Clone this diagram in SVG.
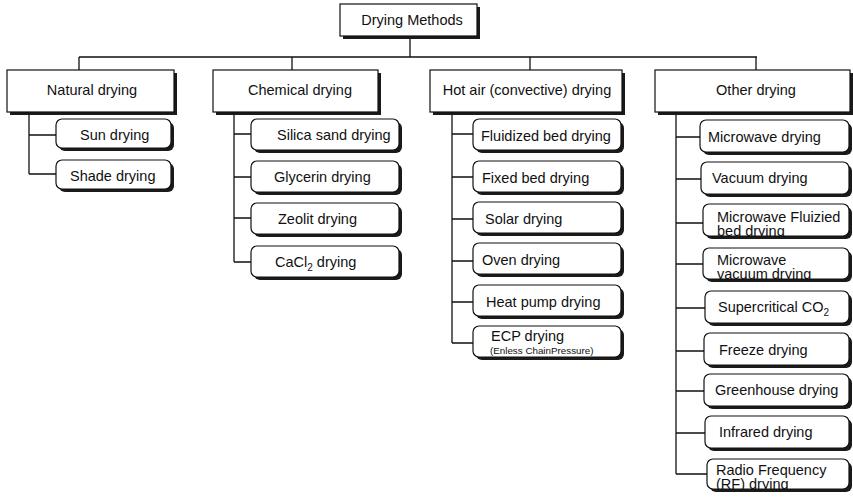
<svg xmlns="http://www.w3.org/2000/svg" width="853" height="497" viewBox="0 0 853 497">
<style>
.sh{fill:#1a1a1a}
.bx{fill:#fff;stroke:#111;stroke-width:1.2}
.t{font-family:"Liberation Sans",Arial,Helvetica,sans-serif;font-size:14.5px;fill:#111}
.c{text-anchor:middle}
.s{font-size:9.8px}
.ln{stroke:#111;stroke-width:1.3;fill:none}
</style>
<defs>
<clipPath id="cpMF"><rect x="703" y="204" width="146" height="32" rx="6"/></clipPath>
<clipPath id="cpMV"><rect x="703" y="248" width="146" height="31" rx="6"/></clipPath>
<clipPath id="cpRF"><rect x="707" y="459" width="142" height="30" rx="6"/></clipPath>
</defs>
<rect width="853" height="497" fill="#fff"/>
<g id="connectors" class="ln">
<path d="M410 36V57M79 57H757M79 57V70M292 57V70M530 57V70M756 57V70"/>
<path d="M29 112V174M29 135H56M29 174H56"/>
<path d="M234 112V262M234 134H251M234 177H251M234 218H251M234 262H251"/>
<path d="M452 112V343M452 134H473M452 177H473M452 219H473M452 261H473M452 302H473M452 343H473"/>
<path d="M676 112V474M676 137H700M676 179H701M676 223H703M676 264H703M676 308H705M676 351H704M676 391H704M676 433H705M676 474H707"/>
</g>
<g id="root"><rect class="sh" x="343" y="7" width="137" height="32"/><rect class="bx" x="340" y="4" width="137" height="32"/><text class="t c" x="412" y="25">Drying Methods</text></g>
<g id="natural"><rect class="sh" x="10" y="73" width="167" height="42"/><rect class="bx" x="7" y="70" width="167" height="42"/><text class="t c" x="92" y="95">Natural drying</text></g>
<g id="chemical"><rect class="sh" x="216" y="73" width="165" height="42"/><rect class="bx" x="213" y="70" width="165" height="42"/><text class="t c" x="300" y="95">Chemical drying</text></g>
<g id="hotair"><rect class="sh" x="433" y="73" width="192" height="42"/><rect class="bx" x="430" y="70" width="192" height="42"/><text class="t c" x="527" y="95">Hot air (convective) drying</text></g>
<g id="other"><rect class="sh" x="658" y="73" width="195" height="42"/><rect class="bx" x="655" y="70" width="195" height="42"/><text class="t c" x="756" y="95">Other drying</text></g>

<g id="sun"><rect class="sh" x="59" y="122" width="115" height="29" rx="6"/><rect class="bx" x="56" y="119" width="115" height="29" rx="6"/><text class="t" x="80" y="140">Sun drying</text></g>
<g id="shade"><rect class="sh" x="59" y="163" width="115" height="29" rx="6"/><rect class="bx" x="56" y="160" width="115" height="29" rx="6"/><text class="t" x="70" y="181">Shade drying</text></g>

<g id="silica"><rect class="sh" x="254" y="122" width="148" height="31" rx="6"/><rect class="bx" x="251" y="119" width="148" height="31" rx="6"/><text class="t" x="277" y="140">Silica sand drying</text></g>
<g id="glycerin"><rect class="sh" x="254" y="164" width="148" height="31" rx="6"/><rect class="bx" x="251" y="161" width="148" height="31" rx="6"/><text class="t" x="274" y="182">Glycerin drying</text></g>
<g id="zeolit"><rect class="sh" x="254" y="206" width="148" height="31" rx="6"/><rect class="bx" x="251" y="203" width="148" height="31" rx="6"/><text class="t" x="278" y="224">Zeolit drying</text></g>
<g id="cacl2"><rect class="sh" x="254" y="249" width="148" height="31" rx="6"/><rect class="bx" x="251" y="246" width="148" height="31" rx="6"/><text class="t" x="275" y="267">CaCl<tspan font-size="10" dy="4">2</tspan><tspan dy="-4"> drying</tspan></text></g>

<g id="fluidized"><rect class="sh" x="476" y="122" width="148" height="31" rx="6"/><rect class="bx" x="473" y="119" width="148" height="31" rx="6"/><text class="t" x="481" y="141">Fluidized bed drying</text></g>
<g id="fixed"><rect class="sh" x="476" y="164" width="148" height="31" rx="6"/><rect class="bx" x="473" y="161" width="148" height="31" rx="6"/><text class="t" x="482" y="183">Fixed bed drying</text></g>
<g id="solar"><rect class="sh" x="476" y="205" width="148" height="31" rx="6"/><rect class="bx" x="473" y="202" width="148" height="31" rx="6"/><text class="t" x="485" y="224">Solar drying</text></g>
<g id="oven"><rect class="sh" x="476" y="246" width="148" height="31" rx="6"/><rect class="bx" x="473" y="243" width="148" height="31" rx="6"/><text class="t" x="482" y="265">Oven drying</text></g>
<g id="heatpump"><rect class="sh" x="476" y="288" width="148" height="31" rx="6"/><rect class="bx" x="473" y="285" width="148" height="31" rx="6"/><text class="t" x="486" y="307">Heat pump drying</text></g>
<g id="ecp"><rect class="sh" x="476" y="329" width="148" height="31" rx="6"/><rect class="bx" x="473" y="326" width="148" height="31" rx="6"/><text class="t" x="491" y="341">ECP drying</text><text class="t s" x="490" y="354">(Enless ChainPressure)</text></g>

<g id="microwave"><rect class="sh" x="703" y="123" width="149" height="32" rx="6"/><rect class="bx" x="700" y="120" width="149" height="32" rx="6"/><text class="t" x="708" y="142">Microwave drying</text></g>
<g id="vacuum"><rect class="sh" x="704" y="165" width="148" height="32" rx="6"/><rect class="bx" x="701" y="162" width="148" height="32" rx="6"/><text class="t" x="712" y="183">Vacuum drying</text></g>
<g id="mwfluid"><rect class="sh" x="706" y="207" width="146" height="32" rx="6"/><rect class="bx" x="703" y="204" width="146" height="32" rx="6"/><text class="t" x="717" y="222" clip-path="url(#cpMF)">Microwave Fluizied<tspan x="717" dy="14">bed drying</tspan></text></g>
<g id="mwvacuum"><rect class="sh" x="706" y="251" width="146" height="31" rx="6"/><rect class="bx" x="703" y="248" width="146" height="31" rx="6"/><text class="t" x="717" y="265" clip-path="url(#cpMV)">Microwave<tspan x="717" dy="14">vacuum drying</tspan></text></g>
<g id="supercritical"><rect class="sh" x="708" y="294" width="144" height="32" rx="6"/><rect class="bx" x="705" y="291" width="144" height="32" rx="6"/><text class="t" x="718" y="312">Supercritical CO<tspan font-size="10" dy="4">2</tspan></text></g>
<g id="freeze"><rect class="sh" x="707" y="336" width="145" height="32" rx="6"/><rect class="bx" x="704" y="333" width="145" height="32" rx="6"/><text class="t" x="719" y="355">Freeze drying</text></g>
<g id="greenhouse"><rect class="sh" x="707" y="377" width="145" height="32" rx="6"/><rect class="bx" x="704" y="374" width="145" height="32" rx="6"/><text class="t" x="715" y="395">Greenhouse drying</text></g>
<g id="infrared"><rect class="sh" x="708" y="419" width="144" height="32" rx="6"/><rect class="bx" x="705" y="416" width="144" height="32" rx="6"/><text class="t" x="719" y="437">Infrared drying</text></g>
<g id="radio"><rect class="sh" x="710" y="462" width="142" height="30" rx="6"/><rect class="bx" x="707" y="459" width="142" height="30" rx="6"/><text class="t" x="716" y="475" clip-path="url(#cpRF)">Radio Frequency<tspan x="716" dy="14">(RF) drying</tspan></text></g>
</svg>
